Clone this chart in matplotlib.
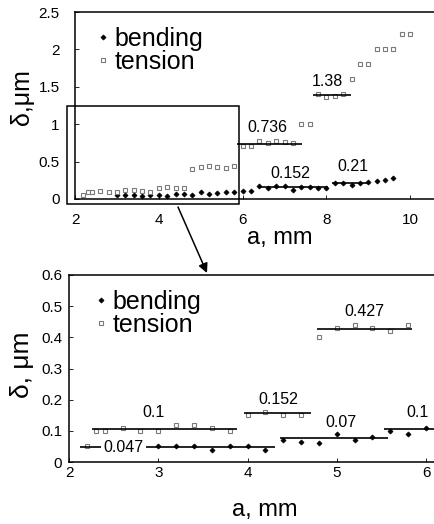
import matplotlib
matplotlib.use("Agg")
import matplotlib.pyplot as plt
from matplotlib.patches import Rectangle, FancyArrowPatch

plt.rcParams['font.family'] = ['Liberation Sans', 'DejaVu Sans']

# ---------------- data ----------------
tension_x = [2.2, 2.3, 2.4, 2.6, 2.8, 3.0, 3.2, 3.4, 3.6, 3.8, 4.0, 4.2, 4.4, 4.6,
             4.8, 5.0, 5.2, 5.4, 5.6, 5.8, 6.0, 6.2, 6.4, 6.6, 6.8, 7.0, 7.2,
             7.4, 7.6, 7.8, 8.0, 8.2, 8.4, 8.6, 8.8, 9.0, 9.2, 9.4, 9.6, 9.8, 10.0]
tension_y = [0.05, 0.10, 0.10, 0.11, 0.10, 0.10, 0.12, 0.12, 0.11, 0.10, 0.15, 0.16, 0.15, 0.15,
             0.40, 0.43, 0.44, 0.43, 0.42, 0.44, 0.71, 0.71, 0.77, 0.75, 0.77, 0.76, 0.75,
             1.0, 1.0, 1.40, 1.36, 1.38, 1.40, 1.60, 1.80, 1.80, 2.0, 2.0, 2.0, 2.2, 2.2]
bending_x = [3.0, 3.2, 3.4, 3.6, 3.8, 4.0, 4.2, 4.4, 4.6, 4.8, 5.0, 5.2, 5.4, 5.6, 5.8,
             6.0, 6.2, 6.4, 6.6, 6.8, 7.0, 7.2, 7.4, 7.6, 7.8, 8.0, 8.2, 8.4, 8.6,
             8.8, 9.0, 9.2, 9.4, 9.6]
bending_y = [0.05, 0.05, 0.05, 0.04, 0.05, 0.05, 0.04, 0.07, 0.065, 0.06, 0.09, 0.07, 0.08, 0.10, 0.09,
             0.11, 0.11, 0.18, 0.15, 0.17, 0.18, 0.12, 0.16, 0.155, 0.15, 0.15, 0.22, 0.21, 0.19,
             0.22, 0.23, 0.245, 0.26, 0.28]

# mean-level segments: (level, x start, x end) and labels
top_levels = [0.736, 1.38, 0.152, 0.21]
top_lvl_y = [0.734, 1.39, 0.165, 0.22]
top_lvl_x0 = [5.86, 7.67, 6.37, 8.14]
top_lvl_x1 = [7.42, 8.59, 8.05, 9.04]
top_lbl_x = [6.6, 8.03, 7.15, 8.63]
top_lbl_y = [0.95, 1.57, 0.34, 0.43]

bot_levels = ["0.047", "0.1", "0.152", "0.07", "0.427", "0.1"]
bot_lvl_y = [0.047, 0.105, 0.157, 0.076, 0.426, 0.106]
bot_lvl_x0 = [2.12, 2.26, 3.96, 4.36, 4.78, 5.53]
bot_lvl_x1 = [4.31, 3.88, 4.71, 5.57, 5.84, 6.2]
bot_lbl_x = [2.61, 2.95, 4.35, 5.05, 5.31, 5.90]
bot_lbl_y = [0.047, 0.158, 0.20, 0.128, 0.484, 0.16]

top_xticks = [2, 4, 6, 8, 10]
top_yticks = [0, 0.5, 1, 1.5, 2, 2.5]
top_yticklabels = ["0", "0.5", "1", "1.5", "2", "2.5"]
bot_xticks = [2, 3, 4, 5, 6]
bot_yticks = [0, 0.1, 0.2, 0.3, 0.4, 0.5, 0.6]
bot_yticklabels = ["0", "0.1", "0.2", "0.3", "0.4", "0.5", "0.6"]

# ---------------- figure ----------------
W, H = 434, 524
fig = plt.figure(figsize=(W / 100, H / 100), dpi=100)

ax1 = fig.add_axes([75 / W, 1 - 199 / H, 1 - 75 / W, 187 / H])
ax2 = fig.add_axes([69 / W, 1 - 462 / H, 1 - 69 / W, 187 / H])

sq_kw = dict(marker='s', ms=3.2, mfc='white', mec='#7a7a7a', mew=0.8, ls='none')
dm_kw = dict(marker='D', ms=2.6, mfc='black', mec='black', mew=0.5, ls='none')


def style(ax, xpad, ypad):
    for s in ['left', 'bottom', 'top']:
        ax.spines[s].set_linewidth(1.1)
    ax.spines['right'].set_visible(False)
    ax.tick_params(axis='both', direction='in', length=3, width=0.6, labelsize=11)
    ax.tick_params(axis='x', pad=xpad)
    ax.tick_params(axis='y', pad=ypad)


# top panel
ax1.plot(bending_x, bending_y, label='bending', **dm_kw)
ax1.plot(tension_x, tension_y, label='tension', **sq_kw)
ax1.hlines(top_lvl_y, top_lvl_x0, top_lvl_x1, colors='black', lw=1.2)
for t, x, y in zip(top_levels, top_lbl_x, top_lbl_y):
    ax1.text(x, y, f"{t:g}", ha='center', va='center', fontsize=11.5)
ax1.set_xlim(2, 2 + (W - 75) / 41.9)
ax1.set_ylim(0, 2.5)
ax1.set_xticks(top_xticks)
ax1.set_yticks(top_yticks)
ax1.set_yticklabels(top_yticklabels)
style(ax1, 10, 11)
ax1.set_xlabel('a, mm', fontsize=17, va='center')
ax1.xaxis.set_label_coords((280 - 75) / (W - 75), (199 - 238) / 187)
ax1.set_ylabel('δ,μm', fontsize=18, va='center')
ax1.yaxis.set_label_coords((22 - 75) / (W - 75), (199 - 97) / 187)
ax1.legend(loc='upper left', bbox_to_anchor=(0.065, 0.92), frameon=False, fontsize=18,
           handlelength=0.4, handletextpad=0.25, labelspacing=-0.05, borderpad=0,
           borderaxespad=0, markerscale=1.0)
ax1.add_patch(Rectangle((1.81, -0.07), 5.91 - 1.81, 1.24 + 0.07, fill=False,
                        ec='black', lw=1.1, clip_on=False, zorder=5))

# bottom panel
ax2.plot(bending_x, bending_y, label='bending', **dm_kw)
ax2.plot(tension_x, tension_y, label='tension', **sq_kw)
ax2.hlines(bot_lvl_y, bot_lvl_x0, bot_lvl_x1, colors='black', lw=1.2)
for i, (t, x, y) in enumerate(zip(bot_levels, bot_lbl_x, bot_lbl_y)):
    kw = {}
    if i == 0:
        kw['bbox'] = dict(fc='white', ec='none', pad=1.5)
    ax2.text(x, y, t, ha='center', va='center', fontsize=11.5, **kw)
ax2.set_xlim(2, 2 + (W - 69) / 89.25)
ax2.set_ylim(0, 0.6)
ax2.set_xticks(bot_xticks)
ax2.set_yticks(bot_yticks)
ax2.set_yticklabels(bot_yticklabels)
style(ax2, 3, 5)
ax2.set_xlabel('a, mm', fontsize=17, va='center')
ax2.xaxis.set_label_coords((265 - 69) / (W - 69), (462 - 510) / 187)
ax2.set_ylabel('δ, μm', fontsize=19, va='center')
ax2.yaxis.set_label_coords((22 - 69) / (W - 69), (462 - 365) / 187)
ax2.legend(loc='upper left', bbox_to_anchor=(0.075, 0.92), frameon=False, fontsize=18,
           handlelength=0.4, handletextpad=0.25, labelspacing=-0.05, borderpad=0,
           borderaxespad=0, markerscale=1.0)

# arrow
arr = FancyArrowPatch((178 / W, 1 - 207 / H), (207 / W, 1 - 273 / H),
                      transform=fig.transFigure, arrowstyle='-|>', mutation_scale=14,
                      color='black', lw=1.1, shrinkA=0, shrinkB=0)
fig.add_artist(arr)

fig.savefig('out.png', dpi=100)
